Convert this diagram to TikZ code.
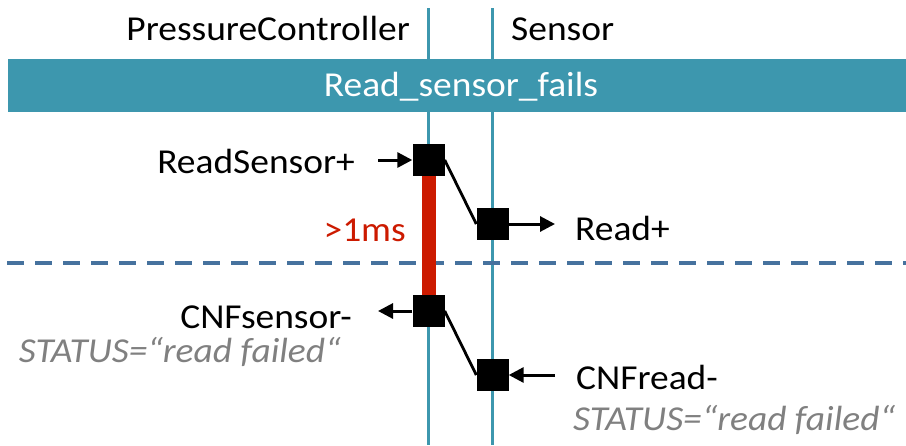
\documentclass[tikz,border=0pt]{standalone}
\usepackage{fontspec}
\setmainfont{Carlito}[FakeStretch=1.07]
\usetikzlibrary{arrows.meta}
\definecolor{lifeteal}{RGB}{61,151,174}
\definecolor{dashblue}{RGB}{70,114,158}
\definecolor{barred}{RGB}{204,26,0}
\definecolor{notegray}{RGB}{128,128,128}
\tikzset{
  lifeline/.style={draw=lifeteal, line width=3pt},
  msgbox/.style={fill=black, draw=none, minimum size=32pt, inner sep=0pt},
  link/.style={draw=black, line width=2.8pt},
  msgarrow/.style={draw=black, line width=3pt, -{Triangle[length=15pt,width=15pt]}},
  lbl/.style={font=\fontsize{35}{40}\selectfont, inner sep=0pt},
  note/.style={font=\fontsize{35}{40}\selectfont\itshape, text=notegray, inner sep=0pt}
}
\begin{document}
\begin{tikzpicture}[x=1pt,y=-1pt]
\useasboundingbox (0,0) rectangle (906,445);
% lifelines
\coordinate (pcTop) at (428.5,8);
\coordinate (pcBot) at (428.5,445);
\coordinate (snTop) at (492.5,8);
\coordinate (snBot) at (492.5,445);
\draw[lifeline] (pcTop) -- (pcBot);
\draw[lifeline] (snTop) -- (snBot);
% headers
\node[lbl, anchor=base east] (pcHead) at (410,40) {PressureController};
\node[lbl, anchor=base west] (snHead) at (511,40) {Sensor};
% scenario banner
\fill[lifeteal] (8,59) rectangle (906,112);
\node[lbl, text=white, anchor=base] (banner) at (461,96) {Read\_sensor\_fails};
% separator
\coordinate (sepL) at (7,263);
\coordinate (sepR) at (906,263);
\draw[dashblue, line width=4pt, dash pattern=on 17pt off 11pt] (sepL) -- (sepR);
% timing constraint
\coordinate (barTop) at (428.5,176);
\coordinate (barBot) at (428.5,296);
\draw[barred, line width=14pt] (barTop) -- (barBot);
\node[lbl, text=barred, anchor=base east] (timing) at (406,241) {>1ms};
% message boxes
\node[msgbox] (readSensor) at (428.5,160) {};
\node[msgbox] (read) at (492.5,224) {};
\node[msgbox] (cnfSensor) at (428.5,311) {};
\node[msgbox] (cnfRead) at (492.5,375) {};
% links between boxes
\draw[link] (readSensor.east) -- (read.west);
\draw[link] (cnfSensor.east) -- (cnfRead.west);
% message arrows
\coordinate (rsIn) at (378,160);
\coordinate (rOut) at (555,224);
\coordinate (csOut) at (378,311);
\coordinate (crIn) at (555,375);
\draw[msgarrow] (rsIn) -- (readSensor.west);
\draw[msgarrow] (read.east) -- (rOut);
\draw[msgarrow] (cnfSensor.west) -- (csOut);
\draw[msgarrow] (crIn) -- (cnfRead.east);
% labels
\node[lbl, anchor=base east] (lblReadSensor) at (355,173) {ReadSensor+};
\node[lbl, anchor=base west] (lblRead) at (575,240) {Read+};
\node[lbl, anchor=base east] (lblCnfSensor) at (352,328) {CNFsensor-};
\node[note, anchor=base east] (noteSensor) at (341,362) {STATUS=“read failed“};
\node[lbl, anchor=base west] (lblCnfRead) at (576,389) {CNFread-};
\node[note, anchor=base west] (noteRead) at (573,430) {STATUS=“read failed“};
\end{tikzpicture}
\end{document}
